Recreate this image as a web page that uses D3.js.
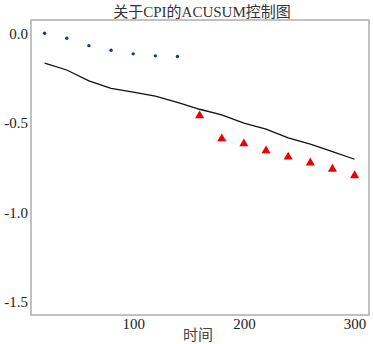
<!DOCTYPE html>
<html lang="zh">
<head>
<meta charset="UTF-8">
<title>关于CPI的ACUSUM控制图</title>
<style>
  body { margin: 0; background: #fff; }
  svg text { font-family: "Liberation Serif", "Noto Sans CJK SC", serif; fill: #222; }
  .frame { fill: none; stroke: #999; stroke-width: 1.2px; }
</style>
</head>
<body>
<div id="chart"></div>
<script src="https://d3js.org/d3.v7.min.js"></script>
<script>
// in-control points (blue dots)
var inTime = [20, 40, 60, 80, 100, 120, 140];
var inValue = [0.0, -0.028, -0.069, -0.095, -0.115, -0.126, -0.130];
// out-of-control points (red triangles)
var outTime = [160, 180, 200, 220, 240, 260, 280, 300];
var outValue = [-0.46, -0.588, -0.616, -0.655, -0.69, -0.723, -0.758, -0.794];
// control limit (black line)
var limitTime = [20, 40, 60, 80, 100, 120, 140, 160, 180, 200, 220, 240, 260, 280, 300];
var limitValue = [-0.166, -0.205, -0.266, -0.307, -0.329, -0.351, -0.385, -0.424, -0.456, -0.502, -0.535, -0.584, -0.619, -0.66, -0.703];
var xTicks = [100, 200, 300];
var yTicks = [0.0, -0.5, -1.0, -1.5];

var w = 373, h = 344;
var padL = 31, padR = 369, padT = 20, padB = 315;

var svg = d3.select("#chart").append("svg")
    .attr("width", w)
    .attr("height", h);

var xScale = d3.scaleLinear().domain([7.7, 313]).range([padL, padR]);
var yScale = d3.scaleLinear().domain([-1.572, 0.074]).range([padB, padT]);

// frame
svg.append("rect")
    .attr("class", "frame")
    .attr("x", padL).attr("y", padT)
    .attr("width", padR - padL).attr("height", padB - padT);

// x axis (labels only, no tick marks)
var xAxis = d3.axisBottom(xScale).tickValues(xTicks).tickSize(0).tickPadding(3)
    .tickFormat(d3.format("d"));
svg.append("g")
    .attr("transform", "translate(0," + padB + ")")
    .call(xAxis)
    .call(function(g) { g.select(".domain").remove(); })
    .selectAll("text")
    .style("font-size", "15px")
    .style("font-family", "Liberation Serif");

var yAxis = d3.axisLeft(yScale).tickValues(yTicks).tickSize(0).tickPadding(3)
    .tickFormat(function(d) { return d3.format(".1f")(d).replace("−", "-"); });
svg.append("g")
    .attr("transform", "translate(" + padL + ",0)")
    .call(yAxis)
    .call(function(g) { g.select(".domain").remove(); })
    .selectAll("text")
    .style("font-size", "15px")
    .style("font-family", "Liberation Serif");

// control limit line
var line = d3.line()
    .x(function(d, i) { return xScale(limitTime[i]); })
    .y(function(d) { return yScale(d); });
svg.append("path")
    .datum(limitValue)
    .attr("d", line)
    .attr("fill", "none")
    .attr("stroke", "#111")
    .attr("stroke-width", 1.3);

// blue dots
svg.append("g").selectAll("circle")
    .data(inValue).enter()
    .append("circle")
    .attr("cx", function(d, i) { return xScale(inTime[i]); })
    .attr("cy", function(d) { return yScale(d); })
    .attr("r", 1.7)
    .attr("fill", "#0b3d91");

// red triangles
var tri = d3.symbol().type(d3.symbolTriangle).size(36);
svg.append("g").selectAll("path")
    .data(outValue).enter()
    .append("path")
    .attr("d", tri)
    .attr("transform", function(d, i) {
        return "translate(" + xScale(outTime[i]) + "," + yScale(d) + ")";
    })
    .attr("fill", "#ee0000");

// title
svg.append("text")
    .attr("x", (padL + padR) / 2 + 2)
    .attr("y", 17)
    .attr("text-anchor", "middle")
    .style("font-size", "15px")
    .style("fill", "#333")
    .text("关于CPI的ACUSUM控制图");

// x axis label
svg.append("text")
    .attr("x", 198)
    .attr("y", 340)
    .attr("text-anchor", "middle")
    .style("font-size", "15px")
    .style("fill", "#444")
    .text("时间");
</script>
</body>
</html>
